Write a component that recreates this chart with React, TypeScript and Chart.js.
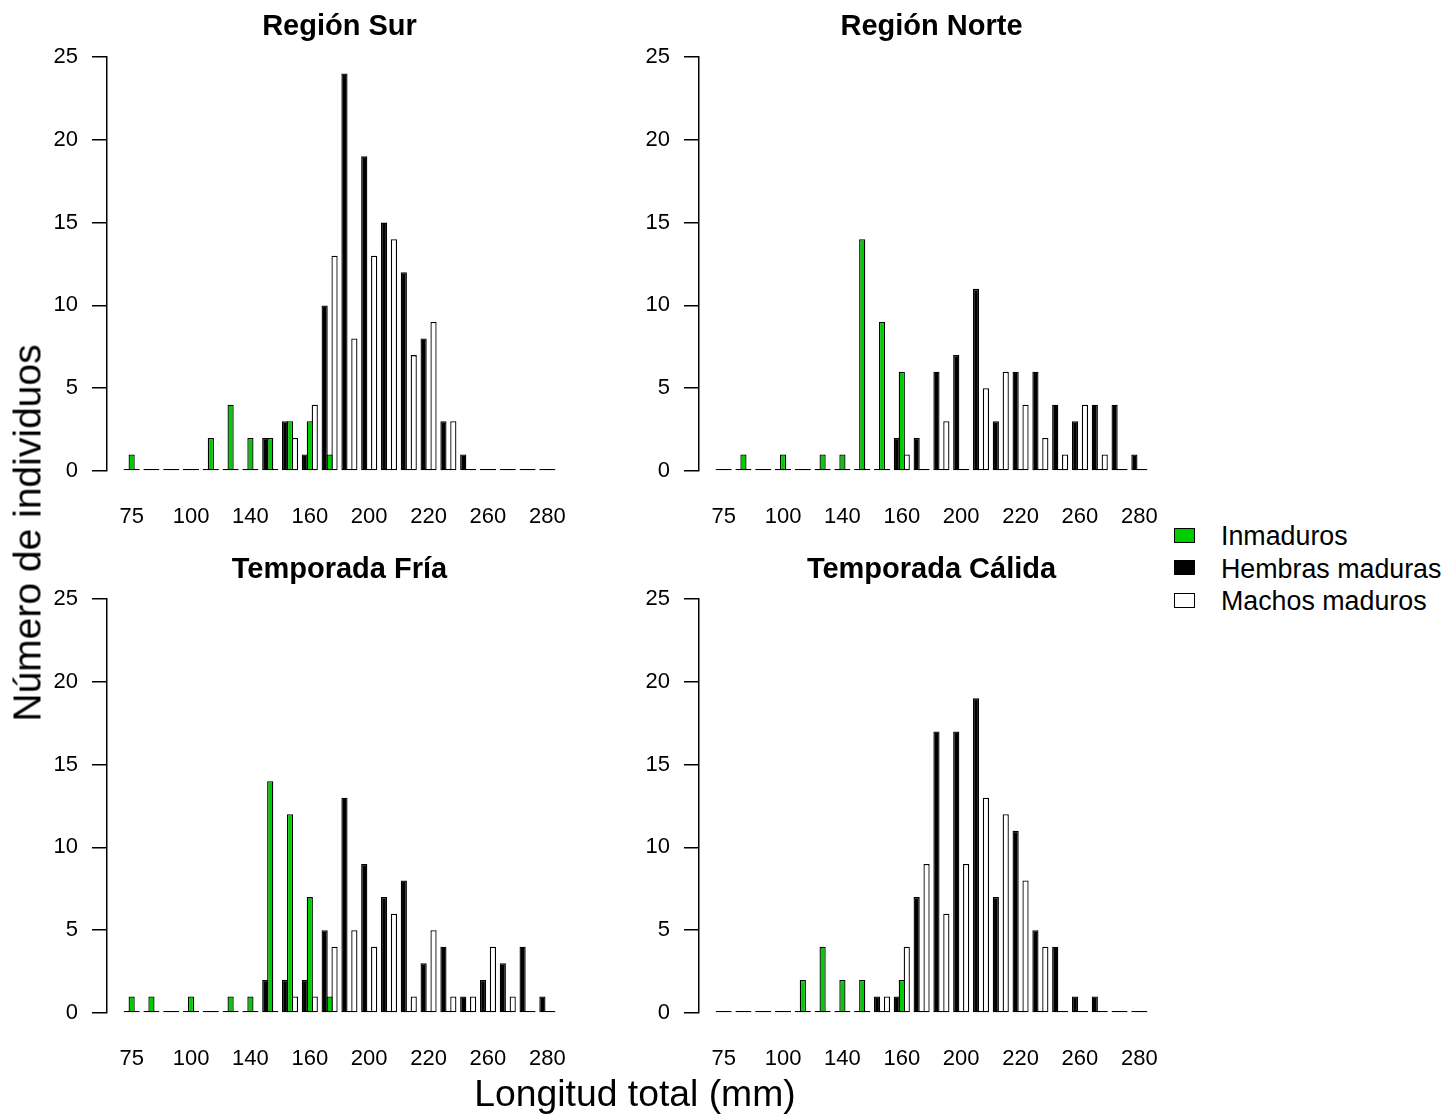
import React, { useEffect, useRef } from "react";
import { Chart, registerables } from "chart.js";

Chart.register(...registerables);

const FONT = "'Liberation Sans', Arial, Helvetica, sans-serif";
Chart.defaults.font.family = FONT;

// Category (length class) labels; R dropped the overlapping ones, so only these are visible
const CATEGORIES: string[] = [
  "75", "", "", "100", "", "", "140", "", "", "160", "", "",
  "200", "", "", "220", "", "", "260", "", "", "280",
];

const SERIES_NAMES = ["Inmaduros", "Hembras maduras", "Machos maduros"];
const GREEN = "#00CD00";
const SERIES_COLORS = [GREEN, "#000000", "#FFFFFF"];

const Y_MAX = 25;
const Y_STEP = 5;

// Región Sur
const SUR_INMADUROS = [1, 0, 0, 0, 2, 4, 2, 2, 3, 3, 1, 0, 0, 0, 0, 0, 0, 0, 0, 0, 0, 0];
const SUR_HEMBRAS = [0, 0, 0, 0, 0, 0, 0, 2, 3, 1, 10, 24, 19, 15, 12, 8, 3, 1, 0, 0, 0, 0];
const SUR_MACHOS = [0, 0, 0, 0, 0, 0, 0, 0, 2, 4, 13, 8, 13, 14, 7, 9, 3, 0, 0, 0, 0, 0];

// Región Norte
const NORTE_INMADUROS = [0, 1, 0, 1, 0, 1, 1, 14, 9, 6, 0, 0, 0, 0, 0, 0, 0, 0, 0, 0, 0, 0];
const NORTE_HEMBRAS = [0, 0, 0, 0, 0, 0, 0, 0, 0, 2, 2, 6, 7, 11, 3, 6, 6, 4, 3, 4, 4, 1];
const NORTE_MACHOS = [0, 0, 0, 0, 0, 0, 0, 0, 0, 1, 0, 3, 0, 5, 6, 4, 2, 1, 4, 1, 0, 0];

// Temporada Fría
const FRIA_INMADUROS = [1, 1, 0, 1, 0, 1, 1, 14, 12, 7, 1, 0, 0, 0, 0, 0, 0, 0, 0, 0, 0, 0];
const FRIA_HEMBRAS = [0, 0, 0, 0, 0, 0, 0, 2, 2, 2, 5, 13, 9, 7, 8, 3, 4, 1, 2, 3, 4, 1];
const FRIA_MACHOS = [0, 0, 0, 0, 0, 0, 0, 0, 1, 1, 4, 5, 4, 6, 1, 5, 1, 1, 4, 1, 0, 0];

// Temporada Cálida
const CALIDA_INMADUROS = [0, 0, 0, 0, 2, 4, 2, 2, 0, 2, 0, 0, 0, 0, 0, 0, 0, 0, 0, 0, 0, 0];
const CALIDA_HEMBRAS = [0, 0, 0, 0, 0, 0, 0, 0, 1, 1, 7, 17, 17, 19, 7, 11, 5, 4, 1, 1, 0, 0];
const CALIDA_MACHOS = [0, 0, 0, 0, 0, 0, 0, 0, 1, 4, 9, 6, 9, 13, 12, 8, 4, 0, 0, 0, 0, 0];

const CANVAS_W = 572;
const CANVAS_H = 540;

// R barplot(beside = TRUE, space = c(0, 1)) geometry in user units
const GROUP = 4; // 3 bars + 1 space
const groupCentre = (i: number) => 2.5 + GROUP * i;

type PanelProps = {
  title: string;
  inmaduros: number[];
  hembras: number[];
  machos: number[];
  left: number;
  top: number;
  titleTop: number;
};

function Panel({ title, inmaduros, hembras, machos, left, top, titleTop }: PanelProps) {
  const ref = useRef<HTMLCanvasElement | null>(null);

  useEffect(() => {
    if (!ref.current) return;
    const n = CATEGORIES.length;
    const lo = 1;
    const hi = GROUP * n;
    const ext = 0.04 * (hi - lo);
    const mk = (vals: number[]) => vals.map((v, i) => ({ x: groupCentre(i), y: v }));
    const common = {
      borderColor: "#000",
      borderWidth: 1.3,
      borderSkipped: false,
      minBarLength: 2,
      categoryPercentage: 0.75,
      barPercentage: 1.25,
    };
    const chart = new Chart(ref.current, {
      type: "bar",
      data: {
        datasets: [
          { label: SERIES_NAMES[1], data: mk(hembras), backgroundColor: SERIES_COLORS[1], ...common },
          { label: SERIES_NAMES[0], data: mk(inmaduros), backgroundColor: SERIES_COLORS[0], ...common },
          { label: SERIES_NAMES[2], data: mk(machos), backgroundColor: SERIES_COLORS[2], ...common },
        ] as any,
      },
      options: {
        animation: false,
        responsive: false,
        devicePixelRatio: 1,
        layout: { padding: 0 },
        plugins: {
          legend: { display: false },
          tooltip: { enabled: false },
          title: {
            display: true,
            text: title,
            color: "#000",
            fullSize: false,
            font: { size: 29, weight: "bold", family: FONT, lineHeight: 1.2 },
            padding: { top: titleTop, bottom: 57 - 34.8 - titleTop },
          },
        },
        scales: {
          x: {
            type: "linear",
            min: lo - ext,
            max: hi + ext,
            offset: false,
            grid: { display: false, drawTicks: false, offset: false },
            border: { display: false },
            afterBuildTicks: (s: any) => {
              s.ticks = CATEGORIES.map((c, i) => ({ c, i }))
                .filter((t) => t.c !== "")
                .map((t) => ({ value: groupCentre(t.i) }));
            },
            ticks: {
              autoSkip: false,
              maxRotation: 0,
              minRotation: 0,
              padding: 32.5,
              color: "#000",
              font: { size: 22 },
              callback: (v: any) => CATEGORIES[Math.round((Number(v) - 2.5) / GROUP)] ?? "",
            },
            afterFit: (s: any) => {
              s.height = CANVAS_H - 471;
              s.paddingLeft = 0;
              s.paddingRight = 0;
            },
          },
          y: {
            type: "linear",
            min: 0,
            max: Y_MAX,
            ticks: { stepSize: Y_STEP, padding: 14, color: "#000", font: { size: 22 } },
            grid: {
              display: true,
              drawOnChartArea: false,
              drawTicks: true,
              tickLength: 15,
              color: "#000",
              lineWidth: 1.5,
            },
            border: { display: true, color: "#000", width: 1.5 },
            afterFit: (s: any) => {
              s.width = 107;
            },
          },
        },
      } as any,
    });
    return () => chart.destroy();
  }, [title, inmaduros, hembras, machos, titleTop]);

  return (
    <canvas
      ref={ref}
      width={CANVAS_W}
      height={CANVAS_H}
      style={{ position: "absolute", left, top, width: CANVAS_W, height: CANVAS_H }}
    />
  );
}

export default function App() {
  const legendRows = [0, 1, 2];
  return (
    <div
      style={{
        position: "absolute",
        left: 0,
        top: 0,
        width: 1449,
        height: 1115,
        background: "#fff",
        fontFamily: FONT,
        color: "#000",
        overflow: "hidden",
      }}
    >
      <Panel title="Región Sur" inmaduros={SUR_INMADUROS} hembras={SUR_HEMBRAS} machos={SUR_MACHOS} left={0} top={0} titleTop={9.6} />
      <Panel title="Región Norte" inmaduros={NORTE_INMADUROS} hembras={NORTE_HEMBRAS} machos={NORTE_MACHOS} left={592} top={0} titleTop={9.6} />
      <Panel title="Temporada Fría" inmaduros={FRIA_INMADUROS} hembras={FRIA_HEMBRAS} machos={FRIA_MACHOS} left={0} top={542} titleTop={10.6} />
      <Panel title="Temporada Cálida" inmaduros={CALIDA_INMADUROS} hembras={CALIDA_HEMBRAS} machos={CALIDA_MACHOS} left={592} top={542} titleTop={10.6} />

      <div
        style={{
          position: "absolute",
          left: 27,
          top: 533,
          fontSize: 39,
          lineHeight: 1,
          whiteSpace: "nowrap",
          transform: "translate(-50%, -50%) rotate(-90deg)",
        }}
      >
        Número de individuos
      </div>
      <div
        style={{
          position: "absolute",
          left: 635,
          top: 1094,
          fontSize: 37.3,
          lineHeight: 1,
          whiteSpace: "nowrap",
          transform: "translate(-50%, -50%)",
        }}
      >
        Longitud total (mm)
      </div>

      {legendRows.map((i) => (
        <div key={i}>
          <div
            style={{
              position: "absolute",
              left: 1174,
              top: 535 + 32.5 * i - 7.5,
              width: 21,
              height: 15,
              boxSizing: "border-box",
              border: "1.5px solid #000",
              background: SERIES_COLORS[i],
            }}
          />
          <div
            style={{
              position: "absolute",
              left: 1221,
              top: 536 + 32.5 * i,
              fontSize: 26.8,
              lineHeight: 1,
              whiteSpace: "nowrap",
              transform: "translateY(-50%)",
            }}
          >
            {SERIES_NAMES[i]}
          </div>
        </div>
      ))}
    </div>
  );
}
